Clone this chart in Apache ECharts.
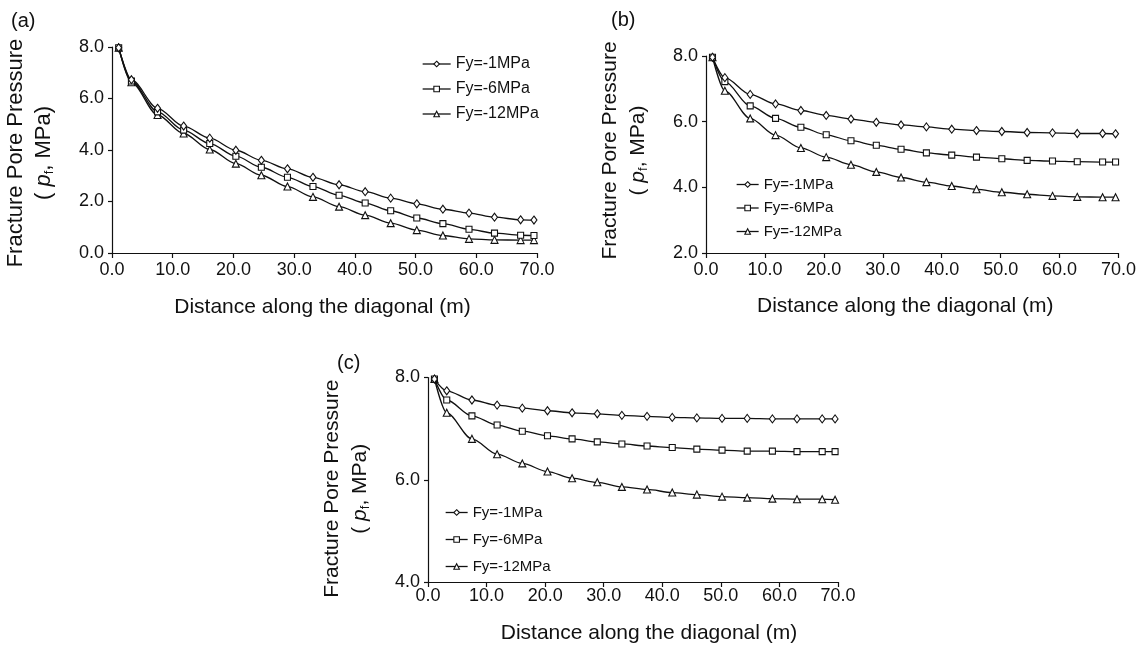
<!DOCTYPE html>
<html>
<head>
<meta charset="utf-8">
<script src="https://cdn.jsdelivr.net/npm/echarts@6/dist/echarts.min.js"></script>
<style>html,body{margin:0;padding:0;background:#fff}#c{width:1144px;height:645px}</style>
</head>
<body>
<div id="c"></div>
<script>
// Distance along the diagonal (m)
const X = [1.1, 3.2, 7.5, 11.8, 16.1, 20.4, 24.6, 28.9, 33.1, 37.4, 41.7, 45.9, 50.2, 54.5, 58.8, 63.0, 67.3, 69.5];
const NAMES = ['Fy=-1MPa', 'Fy=-6MPa', 'Fy=-12MPa'];
// Panel (a)
const A1  = [7.97, 6.73, 5.62, 4.93, 4.46, 3.99, 3.60, 3.27, 2.94, 2.65, 2.38, 2.13, 1.91, 1.70, 1.55, 1.39, 1.29, 1.28];
const A6  = [7.97, 6.68, 5.48, 4.77, 4.25, 3.76, 3.33, 2.94, 2.58, 2.24, 1.94, 1.64, 1.36, 1.14, 0.92, 0.77, 0.69, 0.68];
const A12 = [7.97, 6.63, 5.36, 4.64, 4.02, 3.47, 3.02, 2.58, 2.18, 1.80, 1.47, 1.16, 0.89, 0.68, 0.55, 0.51, 0.50, 0.50];
// Panel (b)
const B1  = [7.96, 7.34, 6.83, 6.54, 6.34, 6.19, 6.08, 5.98, 5.90, 5.84, 5.77, 5.73, 5.70, 5.67, 5.66, 5.64, 5.64, 5.63];
const B6  = [7.96, 7.22, 6.48, 6.10, 5.83, 5.60, 5.42, 5.28, 5.16, 5.05, 4.98, 4.92, 4.87, 4.82, 4.80, 4.78, 4.77, 4.77];
const B12 = [7.96, 6.94, 6.10, 5.59, 5.20, 4.92, 4.69, 4.47, 4.30, 4.16, 4.04, 3.94, 3.85, 3.79, 3.74, 3.71, 3.70, 3.70];
// Panel (c)
const C1  = [7.97, 7.74, 7.56, 7.46, 7.40, 7.35, 7.31, 7.29, 7.26, 7.24, 7.22, 7.21, 7.20, 7.20, 7.19, 7.19, 7.19, 7.19];
const C6  = [7.97, 7.56, 7.25, 7.07, 6.95, 6.86, 6.80, 6.74, 6.70, 6.66, 6.63, 6.60, 6.58, 6.56, 6.56, 6.55, 6.55, 6.55];
const C12 = [7.97, 7.31, 6.80, 6.50, 6.32, 6.16, 6.03, 5.95, 5.86, 5.81, 5.75, 5.71, 5.67, 5.65, 5.63, 5.62, 5.62, 5.61];
// Axis ranges
const X_RANGE = [0, 70, 10];
const Y_RANGES = [[0, 8, 2], [2, 8, 2], [4, 8, 2]];
const PANEL_LABELS = ['(a)', '(b)', '(c)'];
const X_NAME = 'Distance along the diagonal (m)';

const FONT = '"Liberation Sans", Arial, sans-serif';
const INK = '#111';
const SYMBOLS = ['diamond', 'rect', 'triangle'];
const SYM_SIZE = [[6, 8], 6, 7];

const grids = [
  {left: 112, width: 425, top: 47, height: 206},
  {left: 706, width: 412.5, top: 56, height: 197},
  {left: 428, width: 410, top: 377.5, height: 205.5}
];
const labelMargin = [8, 8, 5];
const nameGapX = [44, 43, 41];
const namePadX = [[0, 4, 0, 0], [0, 14, 0, 0], [0, 0, 0, 32]];
const yNameSize = [22, 21, 21];
const namePadY = [[0, 6, 0, 0], [0, 0, 0, 8], [0, 18, 0, 0]];

const xAxes = grids.map((g, i) => ({
  type: 'value', gridIndex: i, min: X_RANGE[0], max: X_RANGE[1], interval: X_RANGE[2],
  name: X_NAME, nameLocation: 'middle', nameGap: nameGapX[i],
  nameTextStyle: {fontFamily: FONT, fontSize: 21, color: INK, padding: namePadX[i]},
  axisLine: {lineStyle: {color: INK, width: 1.2}},
  axisTick: {length: 5, lineStyle: {color: INK, width: 1.2}},
  axisLabel: {fontFamily: FONT, fontSize: 18, color: INK, margin: labelMargin[i], formatter: v => v.toFixed(1)},
  splitLine: {show: false}
}));

const yAxes = grids.map((g, i) => ({
  type: 'value', gridIndex: i, min: Y_RANGES[i][0], max: Y_RANGES[i][1], interval: Y_RANGES[i][2],
  name: '{n|Fracture Pore Pressure}\n{n|( }{i|p}{s|f}{n|, MPa)}',
  nameLocation: 'middle', nameGap: 54,
  nameTextStyle: {
    fontFamily: FONT, fontSize: yNameSize[i], color: INK, lineHeight: 28, padding: namePadY[i],
    rich: {
      n: {fontFamily: FONT, fontSize: yNameSize[i], color: INK, lineHeight: 28},
      i: {fontFamily: FONT, fontSize: yNameSize[i], color: INK, fontStyle: 'italic', lineHeight: 28},
      s: {fontFamily: FONT, fontSize: 13, color: INK, lineHeight: 28, padding: [10, 0, 0, 0]}
    }
  },
  axisLine: {show: true, lineStyle: {color: INK, width: 1.2}},
  axisTick: {show: true, length: 4, lineStyle: {color: INK, width: 1.2}},
  axisLabel: {fontFamily: FONT, fontSize: 18, color: INK, margin: 8, formatter: v => v.toFixed(1)},
  splitLine: {show: false}
}));

const panelData = [[A1, A6, A12], [B1, B6, B12], [C1, C6, C12]];
const series = [];
panelData.forEach((set, gi) => {
  set.forEach((vals, si) => {
    series.push({
      type: 'line', name: NAMES[si], xAxisIndex: gi, yAxisIndex: gi,
      data: X.map((x, k) => [x, vals[k]]),
      smooth: 0.3, smoothMonotone: 'x',
      symbol: SYMBOLS[si], symbolSize: SYM_SIZE[si], showSymbol: true,
      lineStyle: {color: INK, width: 1.3},
      itemStyle: {color: '#fff', borderColor: INK, borderWidth: 1.1},
      emphasis: {disabled: true},
      z: 3 - si
    });
  });
});

const legendBase = {
  data: NAMES, orient: 'vertical',
  itemWidth: 26, itemHeight: 7, selectedMode: false,
  itemStyle: {color: '#fff', borderColor: INK, borderWidth: 1.1},
  lineStyle: {color: INK, width: 1.3}
};
const legends = [
  Object.assign({}, legendBase, {left: 417, top: 51, itemWidth: 28, itemGap: 9, textStyle: {fontFamily: FONT, fontSize: 16, color: INK}}),
  Object.assign({}, legendBase, {left: 731, top: 172, itemWidth: 22, itemGap: 8.5, textStyle: {fontFamily: FONT, fontSize: 15, color: INK}}),
  Object.assign({}, legendBase, {left: 440, top: 500, itemWidth: 22, itemGap: 12, textStyle: {fontFamily: FONT, fontSize: 15, color: INK}})
];

const titles = [
  {text: PANEL_LABELS[0], left: 6, top: 6},
  {text: PANEL_LABELS[1], left: 606, top: 5},
  {text: PANEL_LABELS[2], left: 332, top: 348}
].map(t => Object.assign(t, {textStyle: {fontFamily: FONT, fontSize: 20, fontWeight: 'normal', color: INK}}));

const chart = echarts.init(document.getElementById('c'), null, {renderer: 'canvas'});
chart.setOption({
  animation: false,
  backgroundColor: '#fff',
  title: titles,
  grid: grids,
  xAxis: xAxes,
  yAxis: yAxes,
  legend: legends,
  series: series
});
</script>
</body>
</html>
